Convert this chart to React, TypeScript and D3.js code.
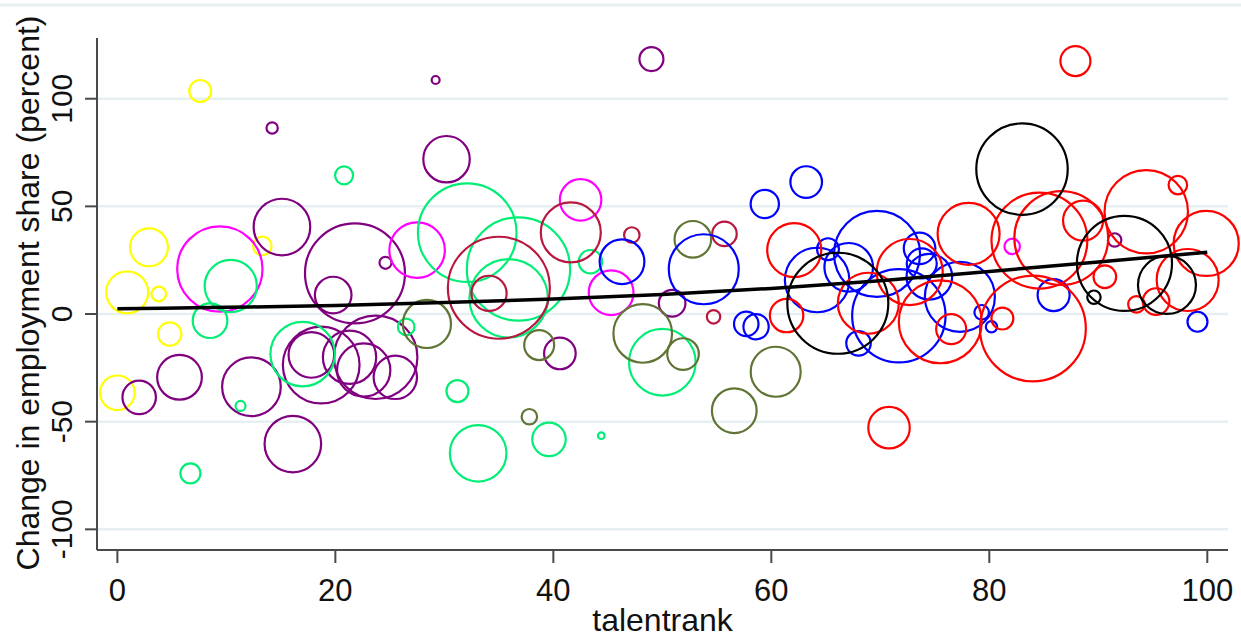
import React from "react";
import * as d3 from "d3";

// [talentrank, change in employment share, employment weight]
const yellowPts = [
  [7.6, 103.6, 1.2], [13.3, 31.6, 0.86], [2.9, 31.0, 3.6], [0.9, 10.1, 4.4],
  [3.8, 9.3, 0.53], [4.8, -9.3, 1.37], [0.0, -36.6, 3.0],
];
const purplePts = [
  [14.2, 86.4, 0.32], [15.1, 40.4, 8.0], [21.8, 18.9, 25], [19.8, 8.8, 3.35],
  [24.6, 23.8, 0.36], [2.0, -38.7, 2.8], [5.7, -29.4, 5.0], [12.3, -33.8, 8.6],
  [16.1, -60.4, 8.0], [17.8, -19.0, 5.2], [18.7, -23.7, 14.7], [21.3, -20.1, 7.1],
  [22.6, -26.0, 7.1], [23.7, -20.1, 17.4], [25.5, -29.4, 4.7], [30.2, 71.9, 5.4],
  [29.2, 108.7, 0.16], [49.0, 118.4, 1.44], [40.6, -18.3, 2.5], [50.9, 5.0, 1.77],
  [91.5, 34.4, 0.45],
];
const magentaPts = [
  [9.4, 20.9, 18.2], [27.5, 29.7, 7.7], [42.5, 53.0, 4.3], [45.3, 9.9, 5.0],
  [82.1, 31.4, 0.6],
];
const greenPts = [
  [20.8, 64.4, 0.81], [10.4, 13.0, 6.8], [8.5, -3.1, 3.0], [11.3, -42.7, 0.25],
  [6.7, -74.0, 1.0], [17.0, -18.6, 10.4], [26.5, -6.0, 0.69], [32.1, 37.8, 24.3],
  [36.8, 20.9, 26.7], [35.9, 7.3, 15.4], [43.4, 24.3, 1.37], [31.2, -35.8, 1.21],
  [39.6, -58.2, 2.8], [44.4, -56.5, 0.11], [33.1, -64.7, 8.0], [50.0, -22.4, 11.1],
];
const crimsonPts = [
  [35.0, 12.2, 26], [34.1, 9.6, 3.1], [41.6, 37.9, 9.0], [47.2, 36.7, 0.6],
  [55.7, 37.2, 1.5], [54.7, -1.3, 0.45],
];
const olivePts = [
  [28.4, -4.6, 5.8], [38.7, -14.4, 2.25], [37.8, -47.7, 0.6], [48.2, -9.0, 8.6],
  [51.9, -18.6, 2.5], [52.8, 34.7, 3.35], [60.4, -26.8, 6.25], [56.6, -44.9, 5.0],
];
const bluePts = [
  [46.3, 24.3, 5.0], [53.8, 20.8, 12.25], [57.7, -4.6, 1.5], [58.6, -5.9, 1.6],
  [59.4, 51.1, 2.0], [63.2, 61.3, 2.5], [65.2, 30.1, 1.2], [64.2, 15.8, 10.4],
  [67.1, 21.7, 5.9], [69.7, 27.9, 18.5], [68.0, -13.6, 1.5], [71.7, -0.8, 21.8],
  [73.6, 30.5, 2.5], [73.8, 23.5, 2.25], [74.5, 17.3, 5.2], [77.3, 8.0, 12.25],
  [79.3, 0.8, 0.53], [80.2, -5.9, 0.32], [85.9, 8.8, 2.56], [99.1, -3.6, 1.0],
];
const redPts = [
  [62.1, 29.7, 7.3], [61.4, -0.7, 2.8], [68.9, 5.0, 9.3], [72.7, 19.5, 10.9],
  [75.5, -3.6, 17.2], [76.5, -7.0, 2.25], [78.1, 37.2, 9.6], [81.2, -2.1, 1.2],
  [70.8, -52.8, 4.3], [84.6, 34.1, 23], [86.6, 35.3, 22], [88.6, 43.4, 4.0],
  [84.0, -6.7, 28], [90.6, 17.3, 1.28], [94.4, 47.5, 17.4], [97.3, 59.9, 0.86],
  [99.9, 32.8, 10.6], [98.2, 15.8, 9.6], [95.3, 5.8, 1.77], [93.5, 4.5, 0.69],
  [87.9, 117.5, 2.25],
];
const blackPts = [
  [83.0, 67.3, 20.9], [66.1, 5.0, 25.5], [92.4, 23.5, 22.6], [89.6, 7.8, 0.45],
  [96.3, 13.5, 8.4],
];

const fitX = [0, 10, 20, 30, 40, 50, 60, 70, 80, 90, 100];
const fitY = [2.4, 3.1, 4.0, 5.3, 7.0, 9.1, 11.9, 15.4, 19.8, 24.2, 28.7];

const xTicks = [0, 20, 40, 60, 80, 100];
const yTicks = [-100, -50, 0, 50, 100];

const groups = [
  { name: "yellow", color: "#ffff00", pts: yellowPts },
  { name: "purple", color: "#800080", pts: purplePts },
  { name: "magenta", color: "#ff00ff", pts: magentaPts },
  { name: "green", color: "#00ee76", pts: greenPts },
  { name: "crimson", color: "#b8173f", pts: crimsonPts },
  { name: "olive", color: "#607535", pts: olivePts },
  { name: "blue", color: "#0000ff", pts: bluePts },
  { name: "red", color: "#ff0000", pts: redPts },
  { name: "black", color: "#000000", pts: blackPts },
];

const W = 1241;
const H = 638;
const FONT = "'Liberation Sans', Arial, Helvetica, sans-serif";

export default function App() {
  const x = d3.scaleLinear().domain([-1.87, 101.9]).range([97, 1228]);
  const y = d3.scaleLinear().domain([-109.6, 128.2]).range([550, 38]);
  const r = d3.scaleSqrt().domain([0, 25]).range([0, 50]);
  const line = d3
    .line<number>()
    .x((_, i) => x(fitX[i]))
    .y((d) => y(d))
    .curve(d3.curveMonotoneX);

  const [x0, x1] = x.range();
  const [yb, yt] = y.range();

  return (
    <svg
      width={W}
      height={H}
      style={{ position: "absolute", left: 0, top: 0, background: "#fff" }}
      fontFamily={FONT}
    >
      <rect x={0} y={0} width={W} height={H} fill="#fff" />
      <line x1={0} x2={W} y1={5} y2={5} stroke="#e8f0f2" strokeWidth={3} />
      {yTicks.map((t) => (
        <line key={"g" + t} x1={x0} x2={x1} y1={y(t)} y2={y(t)} stroke="#e6eff1" strokeWidth={2.5} />
      ))}
      {groups.map((g) => (
        <g key={g.name}>
          {g.pts.map((p, i) => (
            <circle
              key={i}
              cx={x(p[0])}
              cy={y(p[1])}
              r={r(p[2])}
              fill="none"
              stroke={g.color}
              strokeWidth={2.2}
            />
          ))}
        </g>
      ))}
      <path d={line(fitY) || ""} fill="none" stroke="#000" strokeWidth={3.5} />
      {/* axes */}
      <line x1={x0} x2={x0} y1={yt} y2={yb} stroke="#4a4a4a" strokeWidth={2} />
      <line x1={x0} x2={x1} y1={yb} y2={yb} stroke="#4a4a4a" strokeWidth={2} />
      {yTicks.map((t) => (
        <g key={"yt" + t}>
          <line x1={x0 - 12} x2={x0} y1={y(t)} y2={y(t)} stroke="#4a4a4a" strokeWidth={2} />
          <text
            transform={`translate(72,${y(t)}) rotate(-90)`}
            textAnchor="middle"
            fontSize={30}
            fill="#111"
          >
            {t}
          </text>
        </g>
      ))}
      {xTicks.map((t) => (
        <g key={"xt" + t}>
          <line x1={x(t)} x2={x(t)} y1={yb} y2={yb + 13} stroke="#4a4a4a" strokeWidth={2} />
          <text x={x(t)} y={601} textAnchor="middle" fontSize={31} fill="#111">
            {t}
          </text>
        </g>
      ))}
      <text
        transform={`translate(39,293) rotate(-90)`}
        textAnchor="middle"
        fontSize={32}
        fill="#111"
      >
        Change in employment share (percent)
      </text>
      <text x={662.5} y={631} textAnchor="middle" fontSize={32} fill="#111">
        talentrank
      </text>
    </svg>
  );
}
